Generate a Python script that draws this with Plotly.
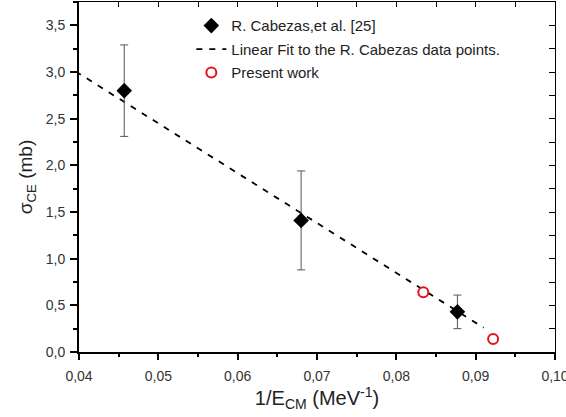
import plotly.graph_objects as go

# Data
cab_x = [0.0457, 0.0680, 0.0877]
cab_y = [2.80, 1.41, 0.43]
cab_err = [0.49, 0.53, 0.18]

fit_x = [0.0382, 0.0910]
fit_y = [3.08, 0.26]

present_x = [0.0834, 0.0922]
present_y = [0.64, 0.14]

x_ticks = [0.04, 0.05, 0.06, 0.07, 0.08, 0.09, 0.10]
x_ticklabels = ["0,04", "0,05", "0,06", "0,07", "0,08", "0,09", "0,10"]
y_ticks = [0.0, 0.5, 1.0, 1.5, 2.0, 2.5, 3.0, 3.5]
y_ticklabels = ["0,0", "0,5", "1,0", "1,5", "2,0", "2,5", "3,0", "3,5"]

x_range = [0.04, 0.10]
y_range = [0, 3.75]

FONT = "Liberation Sans, Arial, sans-serif"

fig = go.Figure()

fig.add_trace(go.Scatter(
    x=fit_x, y=fit_y, mode="lines",
    line=dict(color="black", width=1.8, dash="6px,7px"),
    name="Linear Fit to the R. Cabezas data points.",
    legendrank=2, legendgroup="b", hoverinfo="skip",
))
fig.add_trace(go.Scatter(
    x=cab_x, y=cab_y, mode="markers",
    marker=dict(symbol="diamond", size=12, color="black", line=dict(width=0)),
    error_y=dict(type="data", array=cab_err, visible=True, color="#555555",
                 thickness=1, width=4),
    name="R. Cabezas,et al. [25]", legendrank=1, legendgroup="a",
))
fig.add_trace(go.Scatter(
    x=present_x, y=present_y, mode="markers",
    marker=dict(symbol="circle", size=10, color="white",
                line=dict(color="#e8101a", width=2)),
    name="Present work", legendrank=3, legendgroup="c",
))
# helper trace to activate the mirrored (top/right) axes
fig.add_trace(go.Scatter(x=[None], y=[None], xaxis="x2", yaxis="y2",
                         showlegend=False, hoverinfo="skip"))

fig.update_layout(
    width=566, height=417,
    margin=dict(l=79, r=11, t=2, b=65, autoexpand=False),
    paper_bgcolor="white", plot_bgcolor="white",
    font=dict(family=FONT, color="#222222"),
    showlegend=True,
    legend=dict(
        x=0.236, y=0.979, xanchor="left", yanchor="top",
        bgcolor="rgba(0,0,0,0)", borderwidth=0,
        font=dict(size=15, family=FONT, color="#222222"),
        itemwidth=30, tracegroupgap=1,
    ),
    xaxis=dict(
        range=x_range, tickmode="array", tickvals=x_ticks, ticktext=x_ticklabels,
        showgrid=False, zeroline=False, automargin=False,
        showline=True, linecolor="black", linewidth=2,
        ticks="outside", ticklen=6, tickwidth=1.5, tickcolor="black",
        tickfont=dict(size=14, color="#333333"),
        ticklabelstandoff=4, ticklabeloverflow="allow",
        minor=dict(dtick=0.005, tick0=0.04, ticks="outside", ticklen=3, tickwidth=1.5,
                   tickcolor="black", showgrid=False),
        title=dict(text="1/E<sub>CM</sub> (MeV<sup>-1</sup>)",
                   font=dict(size=20, color="#222222"), standoff=8),
    ),
    yaxis=dict(
        range=y_range, tickmode="array", tickvals=y_ticks, ticktext=y_ticklabels,
        showgrid=False, zeroline=False, automargin=False,
        showline=True, linecolor="black", linewidth=2,
        ticks="outside", ticklen=7, tickwidth=1.5, tickcolor="black",
        tickfont=dict(size=14, color="#333333"),
        ticklabelstandoff=2, ticklabeloverflow="allow",
        minor=dict(dtick=0.25, tick0=0, ticks="outside", ticklen=4, tickwidth=1.5,
                   tickcolor="black", showgrid=False),
        title=dict(text="σ<sub>CE</sub> (mb)",
                   font=dict(size=19, color="#222222"), standoff=8),
    ),
    xaxis2=dict(
        overlaying="x", side="top", anchor="y", range=x_range,
        dtick=0.01, tick0=0.04, showticklabels=False, automargin=False,
        showgrid=False, zeroline=False,
        showline=True, linecolor="black", linewidth=1.2,
        ticks="inside", ticklen=5, tickwidth=1.2, tickcolor="black",
        minor=dict(dtick=0.005, tick0=0.04, ticks="inside", ticklen=5, tickwidth=1.2,
                   tickcolor="black", showgrid=False),
    ),
    yaxis2=dict(
        overlaying="y", side="right", anchor="x", range=y_range,
        dtick=0.5, tick0=0, showticklabels=False, automargin=False,
        showgrid=False, zeroline=False,
        showline=True, linecolor="black", linewidth=1.2,
        ticks="inside", ticklen=6, tickwidth=1.2, tickcolor="black",
        minor=dict(dtick=0.25, tick0=0, ticks="inside", ticklen=6, tickwidth=1.2,
                   tickcolor="black", showgrid=False),
    ),
)

fig.write_html("out.html", config={"displayModeBar": False},
               post_script="document.body.style.margin='0';")
